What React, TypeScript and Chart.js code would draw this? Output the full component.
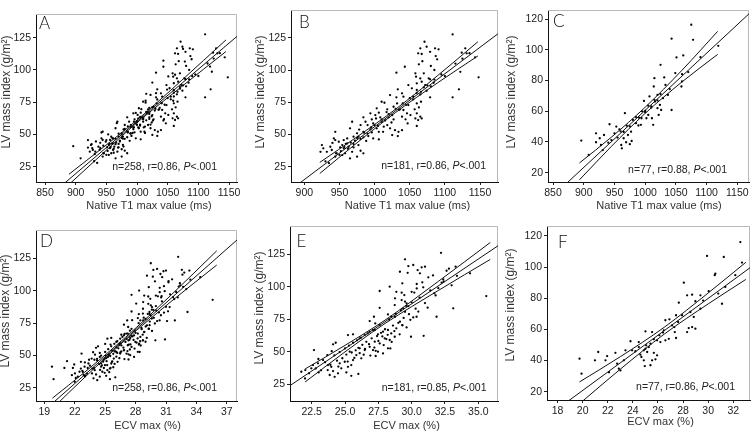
import React, { useEffect, useRef } from "react";
import { Chart, registerables } from "chart.js";
Chart.register(...registerables);

type Pt = [number, number];

// ---------- DATA ----------
// Native T1 (ms) vs LV mass index, subgroup B (n=181)
const t1PointsB: Pt[] = [
  [1031,97.9],[1033,85],[1022,80.6],[1031,78.8],[1039,81.9],[1010,75.4],[1014,74.6],[1032,74.1],[1027,71.5],[1036,69.5],
  [994,66.4],[1001,65.1],[1006,66.9],[1008,63.3],[996,61.7],[984,63.3],[987,59.9],[990,57.3],[998,58.6],[1010,59.9],
  [1018,57.3],[1022,54.8],[1029,53.4],[1034,52.1],[1027,61.7],[1020,63.3],[1003,54.8],[1006,52.1],[1012,52.1],[994,54],
  [984,52.1],[980,57.3],[968,59.9],[965,54.8],[975,50.9],[970,48.3],[977,48.3],[984,47.8],[991,48.8],[998,47],
  [1006,46.2],[961,47],[956,45.7],[944,52.1],[944,45.7],[949,44.4],[954,41.8],[961,43.1],[963,40.5],[970,40],
  [968,36.6],[977,41.8],[980,37.4],[984,35.4],[975,32.8],[965,31.5],[958,35.4],[956,39.3],[951,40],[937,40.5],
  [927,39.3],[925,41.8],[923,36.6],[932,36.6],[939,38],[946,35.4],[954,34.1],[944,32.8],[942,47],[1025,49.6],
  [1033,48.8],[1039,53.4],[1041,69],[1018,69.5],[1003,70.3],
  [1111,127.6],[1071,121.9],[1065,116.8],[1074,118],[1086,116.8],[1091,116],[1062,112.9],[1067,112.4],[1079,114.1],[1087,110.8],
  [1089,108.3],[1129,116.8],[1131,112.9],[1124,113.4],[1143,109.8],[1063,104.4],[1080,103.1],[1085,100],[1043,102.5],[1058,97.4],
  [1070,97.4],[1059,94.8],[1065,93.5],[1077,93.5],[1067,90.9],[1060,89.7],[1072,88.3],[1079,92.8],[1084,90.1],[1122,98.6],
  [1120,85],[1148,94.3],[1111,78.8],[1048,88.3],[1053,85.8],[1060,84.5],[1066,83.1],[1074,83.9],[1079,78.8],[1041,79.3],
  [1055,79.3],[1060,74.1],[1063,71],[1066,75.4],[1048,72.8],[1046,66.4],[1051,65.1],[1039,63.8],[1060,66.4],[1065,63.8],
  [1062,61.2],[1058,62.5],[1067,62.5],[1047,58.6],[1060,56.6],
  [930,29.2],[935,27.9],[945,35.4],[950,34.2],[957,40.3],[962,38.9],[966,43.8],[970,42.6],[975,47.3],[980,46.6],
  [985,51.4],[990,50.7],[995,55.5],[1000,57.3],[1005,56.8],[1010,61.7],[1015,60.9],[1020,65.8],[1025,65],[1030,69.9],
  [1035,69.1],[1040,74.1],[1045,73],[1050,78.2],[1055,77.2],[1060,82.3],[1065,81.1],[1070,86.6],[1075,88.1],[1080,87.3],
  [1085,92.6],[1095,96.5],[1100,95.3],[1115,105],[1125,108.8],[1135,113],
  [940,43.5],[952,37.2],[959,42.8],[972,45.2],[978,53.8],[988,45],[996,51.6],[1002,62.4],[1013,56.1],[1017,67.4],
  [1024,59.3],[1044,61.8],[1057,69.5],[1068,106.8],
];

// Native T1 (ms) vs LV mass index, subgroup C (n=77)
const t1PointsC: Pt[] = [
  [896,40.9],[908,31.5],[920,45.6],[926,42.4],[920,39.8],[928,38],[933,44.5],[931,34.7],[942,51.5],[950,45.6],
  [953,50],[958,48.2],[961,38],[965,42.4],[962,35.8],[967,58.7],[969,39.8],[972,44.5],[975,38.5],[978,40.6],
  [977,46.7],[980,54.3],[985,52.2],[989,50.7],[993,51.1],[994,55.4],[998,66.7],[1000,60.2],[1002,55.4],[1005,57.6],
  [1007,69.6],[1010,62.4],[1011,55.4],[1013,51.1],[1014,76.1],[1015,81.5],[1016,66.3],[1020,70.6],[1020,62],[1022,57.6],
  [1024,64.1],[1025,90.2],[1026,60.8],[1029,68.5],[1031,82],[1033,77.1],[1037,70.6],[1043,60.8],[1043,107.2],[1049,84.8],
  [1051,95],[1059,76.1],[1062,96.3],[1060,79.4],[1075,116.3],[1078,106.5],[1119,102.6],
  [940,39.5],[945,41.2],[955,42.8],[960,46.9],[965,46.5],[970,50.6],[975,50.1],[985,56.2],[990,55.8],[995,59.9],
  [1000,59.4],[1005,63.6],[1010,63.2],[1015,67.4],[1020,67],[1025,71.1],[1040,74.4],[1060,84.1],[1070,85.5],[1090,95.2],
];

// ECV max (%) vs LV mass index, subgroup E (n=181)
const ecvPointsE: Pt[] = [
  [27.6,96.8],[28.35,100.1],[28.85,96.2],[27.6,83.9],[28.73,86],[26.85,73.7],[27.17,77],[27.27,71.9],[28.22,78.8],[28.47,77],
  [25.22,62.9],[25.6,63.5],[26.1,60.4],[26.48,62.9],[26.85,65.5],[27.23,66.8],[27.47,63.5],[27.85,65.5],[28.22,66.8],[28.47,64.2],
  [28.85,68.1],[27.98,60.4],[28.35,59.1],[28.73,61.6],[27.23,57.8],[27.6,56.5],[26.85,53.9],[27.1,51.4],[27.47,50.1],[27.85,48.8],
  [28.22,52.7],[26.48,51.4],[26.1,52.7],[25.85,47.5],[26.22,45],[25.6,43.7],[25.47,39.8],[25.22,38.5],[24.98,42.4],[24.6,41.2],
  [24.72,37.3],[25.1,34.2],[24.47,33.5],[24.1,35.2],[23.97,38.5],[23.85,32.2],[24.22,30.8],[25.47,31.6],[26.0,33.0],[23.67,47.5],
  [23.35,43.7],[22.97,41.2],[22.6,39.8],[22.47,37.3],[22.02,36],[21.72,34.7],[22.67,51.4],[24.1,55.8],[23.72,39.8],[23.02,34.2],
  [22.0,29.5],[25.35,50.1],
  [32.2,126.2],[35.6,92.9],[33.3,115.5],[34.38,110.4],[32.62,112.4],[29.5,121.2],[29.75,116],[30.12,116.8],[30.75,115],[31.0,115.5],
  [30.45,112.9],[29.12,111.6],[29.7,110.8],[30.62,110.4],[31.25,107.3],[29.3,102.7],[30.38,102.2],[32.25,103.2],[30.38,98.8],[30.87,99.6],
  [29.25,95.5],[30.0,96.2],[29.45,93.7],[28.75,91.2],[29.25,89.8],[29.62,87.3],[29.37,83.5],[29.75,85.2],[28.75,77],[29.5,80.8],
  [30.12,76.5],[30.37,77],[29.12,73.2],[29.3,70.6],[29.62,68.8],[29.95,61.6],[31.87,77],[33.12,83.5],[31.7,95],[32.37,105.8],
  [22.3,33.5],[22.8,37.2],[23.2,35.8],[23.5,42],[23.9,40.1],[24.2,47.3],[24.4,43.2],[24.6,49.8],[24.8,45.1],[25.0,52.6],
  [25.1,47.9],[25.3,54.8],[25.5,49.5],[25.6,57],[25.8,51.2],[25.9,58.9],[26.0,53.1],[26.2,61],[26.3,55.4],[26.4,47.8],
  [26.6,57.7],[26.7,64.2],[26.8,55.9],[27.0,60.4],[27.1,66.8],[27.2,53.3],[27.4,62.1],[27.5,58.4],[27.6,70.5],[27.8,61.9],
  [27.9,55.2],[28.0,67.4],[28.2,63.1],[28.3,74.9],[28.5,57.6],[28.6,70.2],[28.8,79.1],[29.0,72.3],[29.2,82],[29.4,76.1],
  [29.6,85.3],[29.8,79],[30.0,88.1],[30.3,83.2],[30.6,91.7],[31.0,87.5],[31.4,97.2],[31.8,93.4],[32.4,104.1],[33.0,101.2],
  [23.0,44.5],[23.7,36],[24.0,50.5],[24.5,38.7],[25.2,42.5],[25.7,45.3],[26.1,49],[26.5,52.2],[26.9,47.1],[27.3,50.8],
  [27.7,64.6],[28.1,59.8],[28.4,52.6],[28.7,66],[29.1,63.5],[29.3,70.4],[29.5,88.7],[29.9,74.6],[30.2,95.6],[30.5,81],
  [30.8,103.5],[31.2,84],[31.6,108.8],[32.0,99],[32.8,114],[33.4,108.5],[24.3,57],[27.3,46.8],[30.9,62.3],
];

// ECV max (%) vs LV mass index, subgroup F (n=77)
const ecvPointsF: Pt[] = [
  [32.56,116.1],[29.91,107.2],[31.24,106.5],[30.57,95.8],[30.52,94.8],[32.69,102.9],[32.16,94.8],[31.36,87.3],[30.04,84.5],[31.1,76.5],
  [28.06,90],[28.72,82.3],[28.32,81.9],[28.98,78.1],[29.38,81.9],[27.66,77.2],[29.38,73.3],[28.85,68],[28.58,71.2],[27.92,69.1],
  [27.44,69.1],[27.6,64.8],[26.91,66.5],[27.12,62.6],[26.46,59.4],[26.59,65.9],[27.34,58.3],[27.44,54.5],[28.32,58.3],[28.45,60.9],
  [28.72,61.5],[28.98,60.5],[26.86,54],[26.59,53],[26.19,51.9],[25.93,53],[25.67,53.7],[26.11,56.2],[25.53,58.3],[25.0,58.8],
  [25.06,49.8],[25.27,48.7],[25.4,50.8],[24.87,46.6],[25.0,47.6],[25.14,45.5],[25.67,45],[25.53,40.2],[25.8,40.8],[25.93,43.4],
  [24.68,42.3],[24.87,40.2],[24.95,36.5],[25.4,37],[24.6,43.8],[24.47,51.9],[23.81,52.4],[23.94,46.6],[24.47,48.7],[23.41,46.6],
  [22.61,45],[21.95,42.9],[21.82,40.2],[21.24,45.5],[20.98,40.2],[19.75,41.2],[19.91,31.6],[22.75,38],[22.88,34.8],[23.01,33.7],
  [22.1,32.5],[23.28,40.2],[24.2,46],[26.4,58],[27.3,61.5],[29.6,78.5],[30.8,83],
];

// Whole cohorts (n=258) are the union of the two subgroups
const t1PointsA: Pt[] = [...t1PointsB, ...t1PointsC];
const ecvPointsD: Pt[] = [...ecvPointsE, ...ecvPointsF];

// Regression lines (end points) and 95% confidence bands
const fitA: Pt[] = [[830, -8.8], [1170, 128.9]];
const ciUpA: Pt[] = [[889, 19.1], [945, 40.0], [1000, 61.1], [1072, 91.6], [1145, 123.3]];
const ciLoA: Pt[] = [[889, 11.1], [945, 35.6], [1000, 59.1], [1072, 86.8], [1145, 114.3]];
const fitB: Pt[] = [[880, 6.9], [1180, 129.9]];
const ciUpB: Pt[] = [[922, 28.4], [975, 48.2], [1030, 69.7], [1090, 95.8], [1147, 121.9]];
const ciLoB: Pt[] = [[922, 19.8], [975, 43.6], [1030, 67.1], [1090, 90.2], [1147, 110.9]];
const fitC: Pt[] = [[840, 1.1], [1170, 123.8]];
const ciUpC: Pt[] = [[893, 26.3], [945, 43.1], [1000, 62.6], [1060, 86.7], [1118, 112.0]];
const ciLoC: Pt[] = [[893, 15.3], [945, 37.1], [1000, 58.6], [1060, 79.1], [1118, 97.0]];
const fitD: Pt[] = [[18, 0.4], [38.2, 140.6]];
const ciUpD: Pt[] = [[19.8, 16.9], [23, 37.1], [27, 63.9], [31.5, 96.6], [36, 130.8]];
const ciLoD: Pt[] = [[19.8, 8.9], [23, 33.1], [27, 61.9], [31.5, 91.6], [36, 119.8]];
const fitE: Pt[] = [[20.5, 21.5], [36.6, 132.4]];
const ciUpE: Pt[] = [[22, 36.8], [25, 55.0], [28, 74.4], [32, 104.2], [35.9, 134.1]];
const ciLoE: Pt[] = [[22, 26.8], [25, 50.0], [28, 71.8], [32, 97.2], [35.9, 121.1]];
const fitF: Pt[] = [[17, 3.1], [33.5, 100.6]];
const ciUpF: Pt[] = [[19.75, 26.3], [23, 42.5], [26.5, 61.4], [30, 83.4], [33, 103.1]];
const ciLoF: Pt[] = [[19.75, 12.3], [23, 34.5], [26.5, 57.0], [30, 76.4], [33, 92.1]];

// Tick values
const t1TicksA = [850, 900, 950, 1000, 1050, 1100, 1150];
const t1TicksB = [900, 950, 1000, 1050, 1100, 1150];
const ecvTicksD = [19, 22, 25, 28, 31, 34, 37];
const ecvTicksE = [22.5, 25.0, 27.5, 30.0, 32.5, 35.0];
const ecvTicksF = [18, 20, 22, 24, 26, 28, 30, 32];
const lvmTicks25 = [25, 50, 75, 100, 125];
const lvmTicks20 = [20, 40, 60, 80, 100, 120];

// Texts
const panelLetters = ["A", "B", "C", "D", "E", "F"];
const statsPrefix = ["n=258, r=0.86, ", "n=181, r=0.86, ", "n=77, r=0.88, ", "n=258, r=0.86, ", "n=181, r=0.85, ", "n=77, r=0.86, "];
const statsP = "P";
const statsSuffix = "<.001";
const xTitles = ["Native T1 max value (ms)", "Native T1 max value (ms)", "Native T1 max value (ms)", "ECV max (%)", "ECV max (%)", "ECV max (%)"];
const yTitle = "LV mass index (g/m²)";

// ---------- LAYOUT ----------
const FONT = "'Liberation Sans', Arial, Helvetica, sans-serif";

type PanelCfg = {
  idx: number;
  points: Pt[]; fit: Pt[]; ciUp: Pt[]; ciLo: Pt[];
  xTicks: number[]; yTicks: number[]; xDec: number;
  xMin: number; xMax: number; yMin: number; yMax: number;
  box: [number, number, number, number];
  area: [number, number, number, number]; // left, right, top, bottom (local)
  letterPos: [number, number];
  statsPos: [number, number];
  xTitlePos: [number, number];
  yTitlePos: [number, number];
};

const panels: PanelCfg[] = [
  { idx: 0, points: t1PointsA, fit: fitA, ciUp: ciUpA, ciLo: ciLoA, xTicks: t1TicksA, yTicks: lvmTicks25, xDec: 0,
    xMin: 835.3, xMax: 1163, yMin: 13.1, yMax: 143.4, box: [0, 0, 250, 216], area: [36, 237, 14, 182],
    letterPos: [39, 28.5], statsPos: [217, 170], xTitlePos: [149, 206], yTitlePos: [7, 92] },
  { idx: 1, points: t1PointsB, fit: fitB, ciUp: ciUpB, ciLo: ciLoB, xTicks: t1TicksB, yTicks: lvmTicks25, xDec: 0,
    xMin: 881, xMax: 1175.6, yMin: 13.2, yMax: 146.5, box: [250, 0, 250, 216], area: [41, 248, 10, 182],
    letterPos: [49, 27.5], statsPos: [236, 168.5], xTitlePos: [157.5, 206], yTitlePos: [11, 92] },
  { idx: 2, points: t1PointsC, fit: fitC, ciUp: ciUpC, ciLo: ciLoC, xTicks: t1TicksA, yTicks: lvmTicks20, xDec: 0,
    xMin: 841.8, xMax: 1169, yMin: 13.9, yMax: 125.9, box: [500, 0, 254, 216], area: [48, 249, 10, 182],
    letterPos: [53, 27], statsPos: [227, 172.5], xTitlePos: [159, 205.5], yTitlePos: [11.5, 92] },
  { idx: 3, points: ecvPointsD, fit: fitD, ciUp: ciUpD, ciLo: ciLoD, xTicks: ecvTicksD, yTicks: lvmTicks25, xDec: 0,
    xMin: 18.18, xMax: 38.0, yMin: 14.7, yMax: 146.9, box: [0, 216, 250, 216], area: [36, 237, 14, 185],
    letterPos: [40, 31], statsPos: [217, 175], xTitlePos: [147.5, 210], yTitlePos: [6, 95] },
  { idx: 4, points: ecvPointsE, fit: fitE, ciUp: ciUpE, ciLo: ciLoE, xTicks: ecvTicksE, yTicks: lvmTicks25, xDec: 1,
    xMin: 20.87, xMax: 36.48, yMin: 12.2, yMax: 146.8, box: [250, 216, 250, 216], area: [40, 248, 10, 185],
    letterPos: [46.5, 31], statsPos: [236.5, 175], xTitlePos: [156.5, 210], yTitlePos: [10, 92] },
  { idx: 5, points: ecvPointsF, fit: fitF, ciUp: ciUpF, ciLo: ciLoF, xTicks: ecvTicksF, yTicks: lvmTicks20, xDec: 0,
    xMin: 17.16, xMax: 33.33, yMin: 14.7, yMax: 126.4, box: [500, 216, 254, 216], area: [47, 250, 10, 184],
    letterPos: [58, 32], statsPos: [235, 173.5], xTitlePos: [160.5, 206], yTitlePos: [11, 89] },
];

const decoPlugin = {
  id: "deco",
  beforeDatasetsDraw(chart: any) {
    const { ctx, chartArea: a } = chart;
    ctx.save();
    ctx.strokeStyle = "#b8b8b8";
    ctx.lineWidth = 1;
    ctx.beginPath();
    ctx.moveTo(a.left, a.top + 0.5);
    ctx.lineTo(a.right - 0.5, a.top + 0.5);
    ctx.lineTo(a.right - 0.5, a.bottom);
    ctx.stroke();
    ctx.restore();
  },
  afterDraw(chart: any, _args: any, o: any) {
    const { ctx } = chart;
    ctx.save();
    // panel letter
    ctx.fillStyle = "#111";
    ctx.font = `300 17px Lato, ${FONT}`;
    ctx.textAlign = "left";
    ctx.textBaseline = "alphabetic";
    ctx.fillText(o.letter, o.letterPos[0], o.letterPos[1]);
    // stats
    const normal = `10.5px ${FONT}`;
    const italic = `italic 10.5px ${FONT}`;
    ctx.fillStyle = "#222";
    ctx.font = normal;
    const w1 = ctx.measureText(o.prefix).width;
    const w3 = ctx.measureText(o.suffix).width;
    ctx.font = italic;
    const w2 = ctx.measureText(o.p).width;
    let x = o.statsPos[0] - (w1 + w2 + w3);
    const y = o.statsPos[1];
    ctx.font = normal; ctx.fillText(o.prefix, x, y); x += w1;
    ctx.font = italic; ctx.fillText(o.p, x, y); x += w2;
    ctx.font = normal; ctx.fillText(o.suffix, x, y);
    // axis titles
    ctx.fillStyle = "#333";
    ctx.textAlign = "center";
    ctx.textBaseline = "middle";
    ctx.font = `11px ${FONT}`;
    ctx.fillText(o.xTitle, o.xTitlePos[0], o.xTitlePos[1]);
    ctx.translate(o.yTitlePos[0], o.yTitlePos[1]);
    ctx.rotate(-Math.PI / 2);
    ctx.font = `12px ${FONT}`;
    ctx.fillText(o.yTitle, 0, 0);
    ctx.restore();
  },
};

function Panel({ cfg }: { cfg: PanelCfg }) {
  const ref = useRef<HTMLCanvasElement>(null);
  useEffect(() => {
    const c = ref.current;
    if (!c) return;
    const [, , bw, bh] = cfg.box;
    const [al, ar, at, ab] = cfg.area;
    const toXY = (p: Pt[]) => p.map(([x, y]) => ({ x, y }));
    const lineDs = (data: Pt[], smooth: boolean) => ({
      type: "scatter" as const,
      data: toXY(data),
      showLine: true,
      borderColor: "#111",
      borderWidth: 1,
      pointRadius: 0,
      fill: false,
      cubicInterpolationMode: smooth ? ("monotone" as const) : ("default" as const),
      order: 1,
    });
    const tickFont = { family: FONT, size: 10.5 };
    const chart = new Chart(c, {
      type: "scatter",
      data: {
        datasets: [
          {
            data: toXY(cfg.points),
            pointRadius: 1.15,
            pointBackgroundColor: "#000",
            pointBorderWidth: 0,
            pointHoverRadius: 0,
            order: 2,
          } as any,
          lineDs(cfg.fit, false),
          lineDs(cfg.ciUp, true),
          lineDs(cfg.ciLo, true),
        ],
      },
      plugins: [decoPlugin as any],
      options: {
        animation: false,
        responsive: false,
        devicePixelRatio: 1,
        events: [],
        layout: { padding: { left: 0, top: at, right: bw - ar, bottom: 0 } },
        plugins: {
          legend: { display: false },
          tooltip: { enabled: false },
          deco: {
            letter: panelLetters[cfg.idx],
            prefix: statsPrefix[cfg.idx],
            p: statsP,
            suffix: statsSuffix,
            xTitle: xTitles[cfg.idx],
            yTitle: yTitle,
            letterPos: cfg.letterPos,
            statsPos: cfg.statsPos,
            xTitlePos: cfg.xTitlePos,
            yTitlePos: cfg.yTitlePos,
          },
        } as any,
        scales: {
          x: {
            type: "linear",
            min: cfg.xMin,
            max: cfg.xMax,
            afterBuildTicks: (s: any) => { s.ticks = cfg.xTicks.map((v) => ({ value: v })); },
            afterFit: (s: any) => { s.height = bh - ab; },
            grid: { drawOnChartArea: false, drawTicks: true, tickLength: 3, color: "#222" },
            border: { display: true, color: "#111", width: 1 },
            ticks: {
              font: tickFont, color: "#222", padding: 2, autoSkip: false, maxRotation: 0,
              callback: (v: any) => Number(v).toFixed(cfg.xDec),
            },
          },
          y: {
            type: "linear",
            min: cfg.yMin,
            max: cfg.yMax,
            afterBuildTicks: (s: any) => { s.ticks = cfg.yTicks.map((v) => ({ value: v })); },
            afterFit: (s: any) => { s.width = al; },
            grid: { drawOnChartArea: false, drawTicks: true, tickLength: 3, color: "#222" },
            border: { display: true, color: "#111", width: 1 },
            ticks: { font: tickFont, color: "#222", padding: 2, autoSkip: false },
          },
        },
      } as any,
    });
    return () => chart.destroy();
  }, [cfg]);
  const [bx, by, bw, bh] = cfg.box;
  return (
    <canvas
      ref={ref}
      width={bw}
      height={bh}
      style={{ position: "absolute", left: bx, top: by, width: bw, height: bh }}
    />
  );
}

export default function App() {
  return (
    <div style={{ position: "fixed", left: 0, top: 0, width: 754, height: 432, background: "#fff" }}>
      {panels.map((p) => (
        <Panel key={p.idx} cfg={p} />
      ))}
    </div>
  );
}
